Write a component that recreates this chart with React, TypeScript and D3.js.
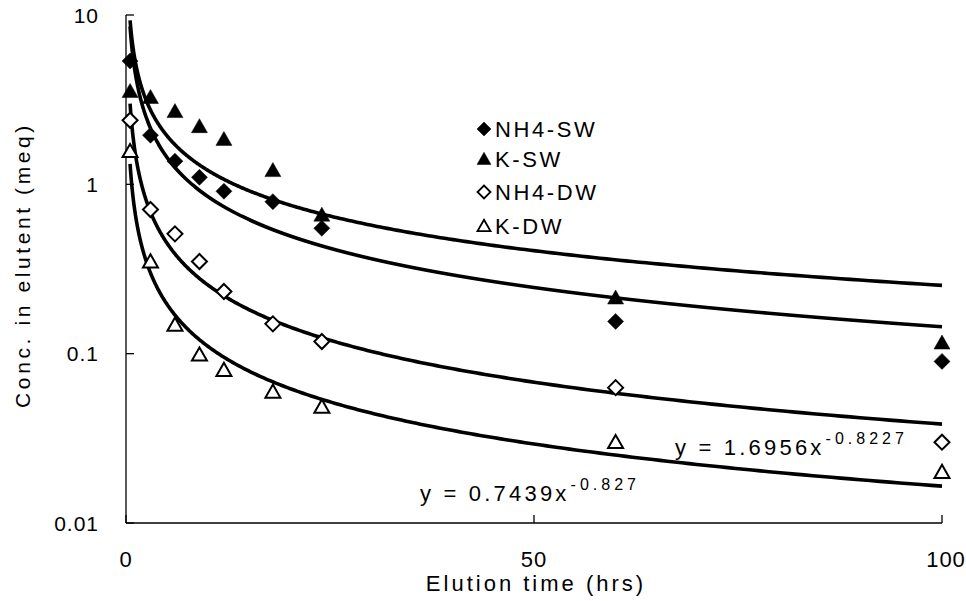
import React from "react";
import * as d3 from "d3";

const W = 966;
const H = 601;

const seriesNames = ["NH4-SW", "K-SW", "NH4-DW", "K-DW"];
const times = [0.5, 3, 6, 9, 12, 18, 24, 60, 100];
const nh4Sw = [5.35, 1.95, 1.37, 1.1, 0.91, 0.79, 0.55, 0.155, 0.09];
const kSw = [3.55, 3.27, 2.7, 2.2, 1.85, 1.21, 0.66, 0.214, 0.116];
const nh4Dw = [2.39, 0.71, 0.51, 0.35, 0.233, 0.15, 0.118, 0.063, 0.03];
const kDw = [1.57, 0.35, 0.148, 0.0986, 0.08, 0.0596, 0.0486, 0.03, 0.02];
const seriesValues = [nh4Sw, kSw, nh4Dw, kDw];
const markerKinds = ["diamond", "triangle", "diamond", "triangle"];
const markerFilled = [true, true, false, false];

// power trendlines y = a * x^b
const fitA = [5.0, 5.8, 1.6956, 0.7439];
const fitB = [-0.77, -0.68, -0.8227, -0.827];

const xTicks = [0, 50, 100];
const yTicks = [10, 1, 0.1, 0.01];
const yTickLabels = ["10", "1", "0.1", "0.01"];

const FONT = "'Liberation Sans', Arial, sans-serif";

function markerPath(kind: string, s: number) {
  if (kind === "diamond") {
    return `M0,${-s}L${s},0L0,${s}L${-s},0Z`;
  }
  const h = s * 1.75;
  return `M0,${-h * 0.55}L${s},${h * 0.45}L${-s},${h * 0.45}Z`;
}

export default function App() {
  const x = d3.scaleLinear().domain([0, 100]).range([126, 942]);
  const y = d3.scaleLog().domain([0.01, 10]).range([523, 15]);

  const sampleT: number[] = [];
  for (let i = 0; i <= 400; i++) {
    sampleT.push(0.5 * Math.pow(200, i / 400));
  }

  const fitPaths = fitA.map((a, k) => {
    const b = fitB[k];
    const gen = d3
      .line<number>()
      .x((t) => x(t))
      .y((t) => y(a * Math.pow(t, b)));
    return gen(sampleT) || "";
  });

  return (
    <svg
      width={W}
      height={H}
      style={{ position: "absolute", left: 0, top: 0, background: "#fff" }}
      fontFamily={FONT}
    >
      <rect x={0} y={0} width={W} height={H} fill="#fff" />
      {/* axes */}
      <line x1={x(0)} x2={x(0)} y1={y(10)} y2={y(0.01)} stroke="#000" strokeWidth={1.3} />
      <line x1={x(0)} x2={x(100)} y1={y(0.01)} y2={y(0.01)} stroke="#000" strokeWidth={1.3} />
      {yTicks.map((v, i) => (
        <g key={"yt" + i}>
          <line x1={x(0)} x2={x(0) + 8} y1={y(v)} y2={y(v)} stroke="#000" strokeWidth={1.3} />
          <text x={99} y={y(v)} dy="0.36em" textAnchor="end" fontSize={21} letterSpacing={1}>
            {yTickLabels[i]}
          </text>
        </g>
      ))}
      {xTicks.map((v, i) => (
        <g key={"xt" + i}>
          <line x1={x(v)} x2={x(v)} y1={y(0.01)} y2={y(0.01) - 8} stroke="#000" strokeWidth={1.3} />
          <text x={x(v) + (v === 100 ? 4 : 0)} y={567} textAnchor="middle" fontSize={22} letterSpacing={1}>
            {String(v)}
          </text>
        </g>
      ))}
      <text x={536} y={591} textAnchor="middle" fontSize={22} letterSpacing={3}>
        Elution time (hrs)
      </text>
      <text
        transform={`translate(30,265) rotate(-90)`}
        textAnchor="middle"
        fontSize={21}
        letterSpacing={3.6}
      >
        Conc. in elutent (meq)
      </text>

      {/* trendlines */}
      {fitPaths.map((d, k) => (
        <path key={"f" + k} d={d} fill="none" stroke="#000" strokeWidth={3.6} strokeLinejoin="round" />
      ))}

      {/* data markers */}
      {seriesValues.map((vals, k) => (
        <g key={"s" + k}>
          {vals.map((v, i) => (
            <path
              key={i}
              transform={`translate(${x(times[i])},${y(v)})`}
              d={markerPath(markerKinds[k], markerFilled[k] ? 8 : 7.5)}
              fill={markerFilled[k] ? "#000" : "#fff"}
              stroke="#000"
              strokeWidth={markerFilled[k] ? 0.5 : 2}
              strokeLinejoin="miter"
            />
          ))}
        </g>
      ))}

      {/* legend */}
      {seriesNames.map((name, k) => {
        const cy = [129, 159, 192, 226][k];
        return (
          <g key={"l" + k}>
            <path
              transform={`translate(484,${cy})`}
              d={markerPath(markerKinds[k], markerFilled[k] ? 7 : 6.5)}
              fill={markerFilled[k] ? "#000" : "#fff"}
              stroke="#000"
              strokeWidth={markerFilled[k] ? 0.5 : 1.8}
            />
            <text x={495} y={cy} dy="0.36em" fontSize={22} letterSpacing={2.6}>
              {name}
            </text>
          </g>
        );
      })}

      {/* equations */}
      <text x={675} y={455} fontSize={22} letterSpacing={3.2}>
        y = 1.6956x
        <tspan dx={1} dy={-11} fontSize={16} letterSpacing={4}>
          -0.8227
        </tspan>
      </text>
      <text x={420} y={501} fontSize={22} letterSpacing={3.2}>
        y = 0.7439x
        <tspan dx={1} dy={-11} fontSize={16} letterSpacing={4}>
          -0.827
        </tspan>
      </text>
    </svg>
  );
}
